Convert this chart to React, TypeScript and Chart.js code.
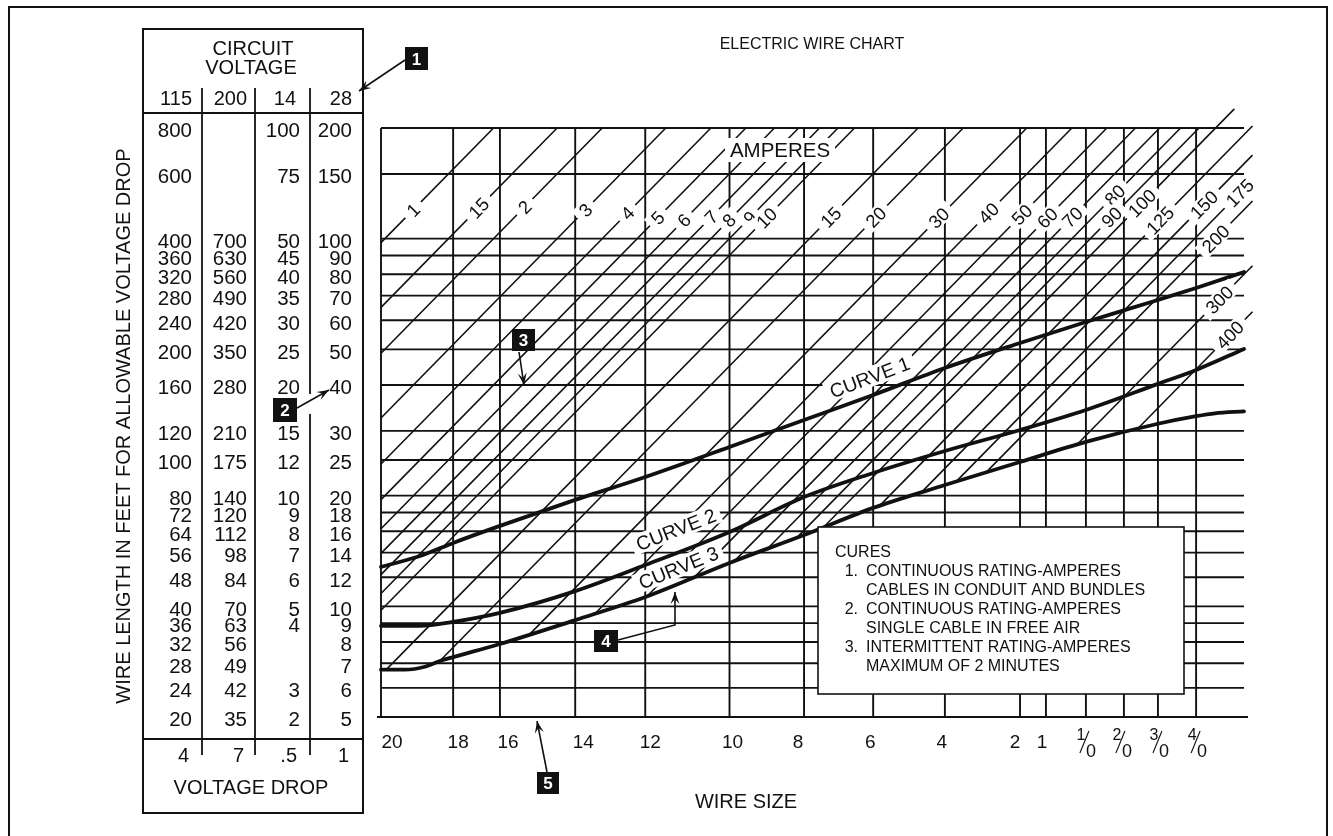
import React, { useEffect, useRef } from "react";
import { Chart, registerables } from "chart.js";

Chart.register(...registerables);

// ---------------- data ----------------
const wireSizes = ["20", "18", "16", "14", "12", "10", "8", "6", "4", "2", "1", "1/0", "2/0", "3/0", "4/0"];
// resistance, ohms per 1000 ft (x axis, logarithmic, reversed)
const wireResistance = [10.25, 6.47, 4.8, 2.97, 1.9, 1.11, 0.69, 0.444, 0.281, 0.174, 0.1475, 0.1143, 0.0897, 0.0722, 0.0566];
const resistanceMax = 10.25;
const resistanceMin = 0.0417;

const circuitVoltages = ["115", "200", "14", "28"];
const voltageDrops = ["4", "7", ".5", "1"];
const dropFor115 = 4;
const feet115 = [800, 600, 400, 360, 320, 280, 240, 200, 160, 120, 100, 80, 72, 64, 56, 48, 40, 36, 32, 28, 24, 20];
const feet200 = [null, null, 700, 630, 560, 490, 420, 350, 280, 210, 175, 140, 120, 112, 98, 84, 70, 63, 56, 49, 42, 35];
const feet14 = [100, 75, 50, 45, 40, 35, 30, 25, 20, 15, 12, 10, 9, 8, 7, 6, 5, 4, null, null, 3, 2];
const feet28 = [200, 150, 100, 90, 80, 70, 60, 50, 40, 30, 25, 20, 18, 16, 14, 12, 10, 9, 8, 7, 6, 5];

const amperes = [1, 1.5, 2, 3, 4, 5, 6, 7, 8, 9, 10, 15, 20, 30, 40, 50, 60, 70, 80, 90, 100, 125, 150, 175, 200, 300, 400];
const ampereLabels = ["1", "15", "2", "3", "4", "5", "6", "7", "8", "9", "10", "15", "20", "30", "40", "50", "60", "70", "80", "90", "100", "125", "150", "175", "200", "300", "400"];

const curve1Res = [10.25, 7.99, 6.47, 4.8, 2.97, 1.9, 1.11, 0.69, 0.444, 0.281, 0.174, 0.1143, 0.0722, 0.0566, 0.0417];
const curve1Feet = [51.2, 54.8, 59.5, 66.2, 77.9, 89.9, 108.5, 128.5, 150.3, 178.0, 208.2, 237.4, 272.5, 293.8, 324.7];
const curve2Res = [10.25, 7.99, 6.47, 4.8, 2.97, 1.9, 1.11, 0.69, 0.444, 0.281, 0.174, 0.1143, 0.0722, 0.0566, 0.0417];
const curve2Feet = [35.4, 35.4, 36.3, 38.4, 44.0, 51.8, 63.7, 79.3, 92.2, 105.8, 120.7, 136.8, 161.1, 175.8, 200.5];
const curve3Res = [10.25, 8.8, 7.74, 7.04, 6.47, 4.8, 2.97, 1.9, 1.11, 0.69, 0.444, 0.281, 0.174, 0.1143, 0.0722, 0.0566, 0.0502, 0.0417];
const curve3Feet = [26.9, 26.9, 27.4, 28.4, 29.1, 31.6, 36.7, 42.4, 52.5, 62.5, 74.1, 85.5, 98.8, 112.0, 125.5, 131.6, 134.0, 135.6];

const legendLines = [
  ["", "CURES"],
  ["1.", "CONTINUOUS RATING-AMPERES"],
  ["", "CABLES IN CONDUIT AND BUNDLES"],
  ["2.", "CONTINUOUS RATING-AMPERES"],
  ["", "SINGLE CABLE IN FREE AIR"],
  ["3.", "INTERMITTENT RATING-AMPERES"],
  ["", "MAXIMUM OF 2 MINUTES"],
];

// ---------------- layout / style (not data) ----------------
const LABEL_FEET = [479, 485, 488, 479, 470, 456, 449, 458, 449, 456, 456, 458, 458, 456, 470, 465, 456, 458, 526, 458, 500, 449, 495, 533, 400, 273, 219];
const WIRE_LABEL_NUDGE = [11, 5, 8, 8, 5, 3, -6, -3, -3, -5, -4, 0, -2, 1, 1];
const TOP_EXT_FEET = 902;
const RIGHT_EXT_RES = 0.0395;
const TOP_EXT_FROM_RES = 0.053;
const INK = "#111";
const FAMILY = '"Liberation Sans", Arial, Helvetica, sans-serif';

const lg = Math.log10;

function feetOnCurve(res: number[], ft: number[], r: number) {
  const lr = lg(r);
  for (let i = 0; i < res.length - 1; i++) {
    const a = lg(res[i]);
    const b = lg(res[i + 1]);
    if (lr <= a && lr >= b) {
      const t = (lr - a) / (b - a);
      return Math.pow(10, lg(ft[i]) + t * (lg(ft[i + 1]) - lg(ft[i])));
    }
  }
  return lr > lg(res[0]) ? ft[0] : ft[ft.length - 1];
}

function diagonalStart(I: number) {
  const K = (dropFor115 * 1000) / I;
  const g = (r: number) => lg(K / r) - lg(feetOnCurve(curve3Res, curve3Feet, r));
  if (g(resistanceMax) >= 0) return resistanceMax;
  let hi = resistanceMax;
  let lo = resistanceMin;
  for (let k = 0; k < 60; k++) {
    const mid = Math.sqrt(hi * lo);
    if (g(mid) < 0) hi = mid;
    else lo = mid;
  }
  return Math.sqrt(hi * lo);
}

function diagonalEnd(I: number) {
  const K = (dropFor115 * 1000) / I;
  const rTop = K / 800;
  if (rTop >= TOP_EXT_FROM_RES) return rTop;
  return Math.max(K / TOP_EXT_FEET, RIGHT_EXT_RES);
}

function setFont(ctx: CanvasRenderingContext2D, size: number, weight = "normal") {
  ctx.font = `${weight} ${size}px ${FAMILY}`;
}
function txt(ctx: CanvasRenderingContext2D, s: string, x: number, yc: number, size: number, align: CanvasTextAlign = "center", weight = "normal") {
  setFont(ctx, size, weight);
  ctx.textAlign = align;
  ctx.textBaseline = "alphabetic";
  ctx.fillText(s, x, yc + size * 0.358);
}
function line(ctx: CanvasRenderingContext2D, x1: number, y1: number, x2: number, y2: number, w = 1.8) {
  ctx.lineWidth = w;
  ctx.beginPath();
  ctx.moveTo(x1, y1);
  ctx.lineTo(x2, y2);
  ctx.stroke();
}
function arrow(ctx: CanvasRenderingContext2D, pts: number[][]) {
  ctx.lineWidth = 1.6;
  ctx.beginPath();
  ctx.moveTo(pts[0][0], pts[0][1]);
  for (let i = 1; i < pts.length; i++) ctx.lineTo(pts[i][0], pts[i][1]);
  ctx.stroke();
  const [ax, ay] = pts[pts.length - 2];
  const [bx, by] = pts[pts.length - 1];
  const a = Math.atan2(by - ay, bx - ax);
  const L = 12;
  const W = 4.5;
  ctx.beginPath();
  ctx.moveTo(bx, by);
  ctx.lineTo(bx - L * Math.cos(a) + W * Math.sin(a), by - L * Math.sin(a) - W * Math.cos(a));
  ctx.lineTo(bx - 0.6 * L * Math.cos(a), by - 0.6 * L * Math.sin(a));
  ctx.lineTo(bx - L * Math.cos(a) - W * Math.sin(a), by - L * Math.sin(a) + W * Math.cos(a));
  ctx.closePath();
  ctx.fill();
}
function callout(ctx: CanvasRenderingContext2D, n: string, x: number, y: number, w: number, h: number) {
  ctx.fillStyle = INK;
  ctx.fillRect(x, y, w, h);
  ctx.fillStyle = "#fff";
  txt(ctx, n, x + w / 2, y + h / 2, 17, "center", "bold");
  ctx.fillStyle = INK;
}

const gridPlugin = {
  id: "wireGrid",
  beforeDatasetsDraw(chart: any) {
    const { ctx, chartArea: a } = chart;
    const xs = chart.scales.x;
    const ys = chart.scales.y;
    ctx.save();
    ctx.strokeStyle = INK;
    for (const f of feet115) {
      const y = ys.getPixelForValue(f);
      const extra = f === 20 ? 4 : 0;
      line(ctx, a.left - extra, y, a.right + extra, y, 1.9);
    }
    for (const r of wireResistance) {
      const x = xs.getPixelForValue(r);
      line(ctx, x, a.top, x, a.bottom, 1.9);
    }
    ctx.restore();
  },
};

const overlayPlugin = {
  id: "wireOverlay",
  afterDatasetsDraw(chart: any) {
    const ctx: CanvasRenderingContext2D = chart.ctx;
    const xs = chart.scales.x;
    const ys = chart.scales.y;
    const X = (r: number) => xs.getPixelForValue(r);
    const Y = (f: number) => ys.getPixelForValue(f);
    ctx.save();
    ctx.fillStyle = INK;
    ctx.strokeStyle = INK;

    // ampere labels on the diagonals
    amperes.forEach((I, i) => {
      const K = (dropFor115 * 1000) / I;
      const L = LABEL_FEET[i];
      const r = K / L;
      const px = X(r);
      const py = Y(L);
      const ang = Math.atan2(Y(K / (r / 2)) - py, X(r / 2) - px);
      ctx.save();
      ctx.translate(px, py);
      ctx.rotate(ang);
      setFont(ctx, 18.5);
      const w = ctx.measureText(ampereLabels[i]).width;
      ctx.fillStyle = "#fff";
      ctx.fillRect(-w / 2 - 6, -8.5, w + 12, 17);
      ctx.fillStyle = INK;
      txt(ctx, ampereLabels[i], 0, 0, 18.5);
      ctx.restore();
    });

    // AMPERES
    ctx.fillStyle = "#fff";
    ctx.fillRect(725, 138, 110, 24);
    ctx.fillStyle = INK;
    txt(ctx, "AMPERES", 780, 150, 20.5);

    // curve labels
    const curveLabel = (ds: number, label: string, r: number, off: number) => {
      const meta = chart.getDatasetMeta(ds);
      const pts = meta.data.map((p: any) => ({ x: p.x, y: p.y }));
      const xp = X(r);
      let i = 0;
      while (i < pts.length - 2 && pts[i + 1].x < xp) i++;
      const a = pts[i];
      const b = pts[i + 1];
      const t = (xp - a.x) / (b.x - a.x);
      const yp = a.y + t * (b.y - a.y);
      const ang = Math.atan2(b.y - a.y, b.x - a.x);
      ctx.save();
      ctx.translate(xp, yp);
      ctx.rotate(ang);
      setFont(ctx, 19.5);
      const w = ctx.measureText(label).width;
      ctx.fillStyle = "#fff";
      ctx.fillRect(-w / 2 - 5, -off - 10, w + 10, 20);
      ctx.fillStyle = INK;
      txt(ctx, label, 0, -off, 19.5);
      ctx.restore();
    };
    curveLabel(0, "CURVE 1", 0.436, 18);
    curveLabel(1, "CURVE 2", 1.484, 22);
    curveLabel(2, "CURVE 3", 1.484, 15);

    // legend box
    ctx.fillStyle = "#fff";
    ctx.fillRect(818, 527, 366, 167);
    ctx.strokeStyle = INK;
    ctx.lineWidth = 1.6;
    ctx.strokeRect(818, 527, 366, 167);
    ctx.fillStyle = INK;
    legendLines.forEach(([n, s], i) => {
      const y = 551 + i * 19;
      if (i === 0) txt(ctx, s, 835, y, 16, "left");
      else {
        if (n) txt(ctx, n, 858, y, 16, "right");
        txt(ctx, s, 866, y, 16, "left");
      }
    });

    // wire size tick labels
    wireSizes.forEach((s, i) => {
      const x = X(wireResistance[i]) + WIRE_LABEL_NUDGE[i];
      if (s.includes("/")) {
        const [num, den] = s.split("/");
        txt(ctx, num, x - 5, 734, 16);
        line(ctx, x - 6, 753, x + 3, 731, 1.1);
        txt(ctx, den, x + 5, 751, 18);
      } else {
        txt(ctx, s, x, 741, 19);
      }
    });
    txt(ctx, "WIRE SIZE", 746, 801, 20);
    txt(ctx, "ELECTRIC WIRE CHART", 812, 43, 16);

    // y axis title
    ctx.save();
    ctx.translate(123, 426);
    ctx.rotate(-Math.PI / 2);
    txt(ctx, "WIRE LENGTH IN FEET FOR ALLOWABLE VOLTAGE DROP", 0, 0, 20);
    ctx.restore();

    // circuit voltage table
    ctx.strokeStyle = INK;
    ctx.lineWidth = 2;
    ctx.strokeRect(143, 29, 220, 784);
    line(ctx, 143, 113, 363, 113, 2);
    line(ctx, 143, 739, 363, 739, 2);
    line(ctx, 202, 88, 202, 755, 1.8);
    line(ctx, 255, 88, 255, 755, 1.8);
    line(ctx, 310, 88, 310, 394, 1.8);
    line(ctx, 310, 414, 310, 755, 1.8);
    txt(ctx, "CIRCUIT", 253, 48, 20);
    txt(ctx, "VOLTAGE", 251, 67, 20);
    const colRight = [192, 247, 300, 352];
    circuitVoltages.forEach((v, i) => txt(ctx, v, colRight[i] - (i === 2 ? 4 : 0), 98, 20, "right"));
    const cols = [feet115, feet200, feet14, feet28];
    feet115.forEach((f, row) => {
      const y = Y(f) + 2;
      cols.forEach((col, c) => {
        const v = col[row];
        if (v !== null && v !== undefined) txt(ctx, String(v), colRight[c], y, 20.5, "right");
      });
    });
    voltageDrops.forEach((v, i) => txt(ctx, v, colRight[i] - 3, 755, 20, "right"));
    txt(ctx, "VOLTAGE DROP", 251, 787, 20);

    // callouts
    callout(ctx, "1", 405, 47, 23, 23);
    arrow(ctx, [[405, 60], [359, 91]]);
    callout(ctx, "2", 273, 398, 24, 24);
    arrow(ctx, [[297, 408], [329, 390]]);
    callout(ctx, "3", 512, 329, 23, 22);
    arrow(ctx, [[519, 352], [524, 385]]);
    callout(ctx, "4", 594, 630, 24, 22);
    arrow(ctx, [[618, 640], [675, 625], [675, 592]]);
    callout(ctx, "5", 537, 772, 22, 22);
    arrow(ctx, [[547, 772], [537, 721]]);

    // outer frame
    ctx.strokeStyle = INK;
    line(ctx, 9, 7, 1327, 7, 2);
    line(ctx, 9, 6, 9, 836, 2);
    line(ctx, 1327, 6, 1327, 836, 2);
    ctx.restore();
  },
};

export default function App() {
  const ref = useRef<HTMLCanvasElement | null>(null);
  useEffect(() => {
    const canvas = ref.current;
    if (!canvas) return;
    const K = dropFor115 * 1000;
    const curveDs = [
      [curve1Res, curve1Feet, "Curve 1"],
      [curve2Res, curve2Feet, "Curve 2"],
      [curve3Res, curve3Feet, "Curve 3"],
    ].map(([res, ft, label]: any) => ({
      label,
      data: (res as number[]).map((r, i) => ({ x: r, y: (ft as number[])[i] })),
      borderColor: INK,
      borderWidth: 3.8,
      pointRadius: 0,
      fill: false,
      cubicInterpolationMode: "monotone" as const,
      borderCapStyle: "round" as const,
      order: 1,
      clip: false as const,
    }));
    const ampDs = amperes.map((I, i) => {
      const r0 = diagonalStart(I);
      const r1 = diagonalEnd(I);
      return {
        label: ampereLabels[i] + " A",
        data: [
          { x: r0, y: K / (I * r0) },
          { x: r1, y: K / (I * r1) },
        ],
        borderColor: INK,
        borderWidth: 1.6,
        pointRadius: 0,
        fill: false,
        tension: 0,
        order: 2,
        clip: false as const,
      };
    });
    const chart = new Chart(canvas, {
      type: "line",
      data: { datasets: [...curveDs, ...ampDs] as any },
      options: {
        animation: false,
        responsive: false,
        events: [],
        layout: { padding: { left: 381, top: 128, right: 89, bottom: 119 } },
        scales: {
          x: { type: "logarithmic", reverse: true, min: resistanceMin, max: resistanceMax, bounds: "data", display: false },
          y: { type: "logarithmic", min: 20, max: 800, bounds: "data", display: false },
        },
        plugins: { legend: { display: false }, tooltip: { enabled: false }, title: { display: false } },
      } as any,
      plugins: [gridPlugin, overlayPlugin],
    });
    return () => chart.destroy();
  }, []);
  return (
    <div style={{ position: "absolute", left: 0, top: 0, width: 1333, height: 836, background: "#fff" }}>
      <canvas ref={ref} width={1333} height={836} style={{ display: "block" }} />
    </div>
  );
}
